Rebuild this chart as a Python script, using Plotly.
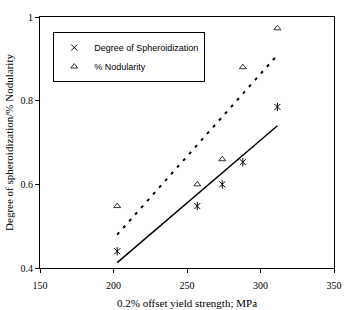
import numpy as np
import plotly.graph_objects as go

yield_strength = [202.5, 257, 274, 288, 311.5]
spheroidization = [0.44, 0.548, 0.60, 0.653, 0.785]
nodularity = [0.548, 0.60, 0.66, 0.88, 0.973]

x_ticks = [150, 200, 250, 300, 350]
y_ticks = [0.4, 0.6, 0.8, 1.0]
y_tick_text = ["0.4", "0.6", "0.8", "1"]

xs = np.array(yield_strength)
sp_fit = np.polyfit(xs, spheroidization, 1)
nd_fit = np.polyfit(xs, nodularity, 1)
x_line = [min(yield_strength), max(yield_strength)]

fig = go.Figure()
fig.add_trace(go.Scatter(
    x=x_line, y=list(np.polyval(nd_fit, x_line)), mode="lines",
    line=dict(color="black", width=2, dash="3px,6px"), showlegend=False, hoverinfo="skip"))
fig.add_trace(go.Scatter(
    x=x_line, y=list(np.polyval(sp_fit, x_line)), mode="lines",
    line=dict(color="black", width=1.5), showlegend=False, hoverinfo="skip"))
fig.add_trace(go.Scatter(
    x=yield_strength, y=spheroidization, mode="markers", name="Degree of Spheroidization",
    legendgroup="sp",
    marker=dict(symbol="x-thin-open", size=6, color="black", line=dict(width=1, color="black"))))
fig.add_trace(go.Scatter(
    x=yield_strength, y=spheroidization, mode="markers", showlegend=False, legendgroup="sp",
    marker=dict(symbol="line-ns-open", size=6, color="black", line=dict(width=1, color="black"))))
fig.add_trace(go.Scatter(
    x=yield_strength, y=nodularity, mode="markers", name="% Nodularity",
    marker=dict(symbol="triangle-up-open", size=6, color="black", line=dict(width=0.8, color="black"))))

tick_font = dict(family="Liberation Serif", size=10, color="black")
fig.update_layout(
    width=348, height=310,
    margin=dict(l=40, r=14, t=17, b=42),
    paper_bgcolor="white", plot_bgcolor="white",
    xaxis=dict(range=[150, 350], tickvals=x_ticks, ticks="outside", ticklen=4,
               tickcolor="black", showline=True, linecolor="black", linewidth=1,
               mirror=True, showgrid=False, zeroline=False, tickfont=tick_font,
               automargin=False, ticklabelstandoff=4,
               title=dict(text="0.2% offset yield strength; MPa",
                          font=dict(family="Liberation Serif", size=11, color="black"),
                          standoff=9)),
    yaxis=dict(range=[0.4, 1.0], tickvals=y_ticks, ticktext=y_tick_text, ticks="outside",
               ticklen=4, tickcolor="black", showline=True, linecolor="black", linewidth=1,
               mirror=True, showgrid=False, zeroline=False, tickfont=tick_font,
               automargin=False,
               title=dict(text="Degree of spheroidization/% Nodularity",
                          font=dict(family="Liberation Serif", size=11, color="black"),
                          standoff=4)),
    legend=dict(x=0.045, y=0.94, xanchor="left", yanchor="top",
                bordercolor="black", borderwidth=1, bgcolor="white",
                font=dict(family="Liberation Sans", size=9, color="black"),
                tracegroupgap=0, itemwidth=30),
    showlegend=True,
)
fig.write_html("out.html")
